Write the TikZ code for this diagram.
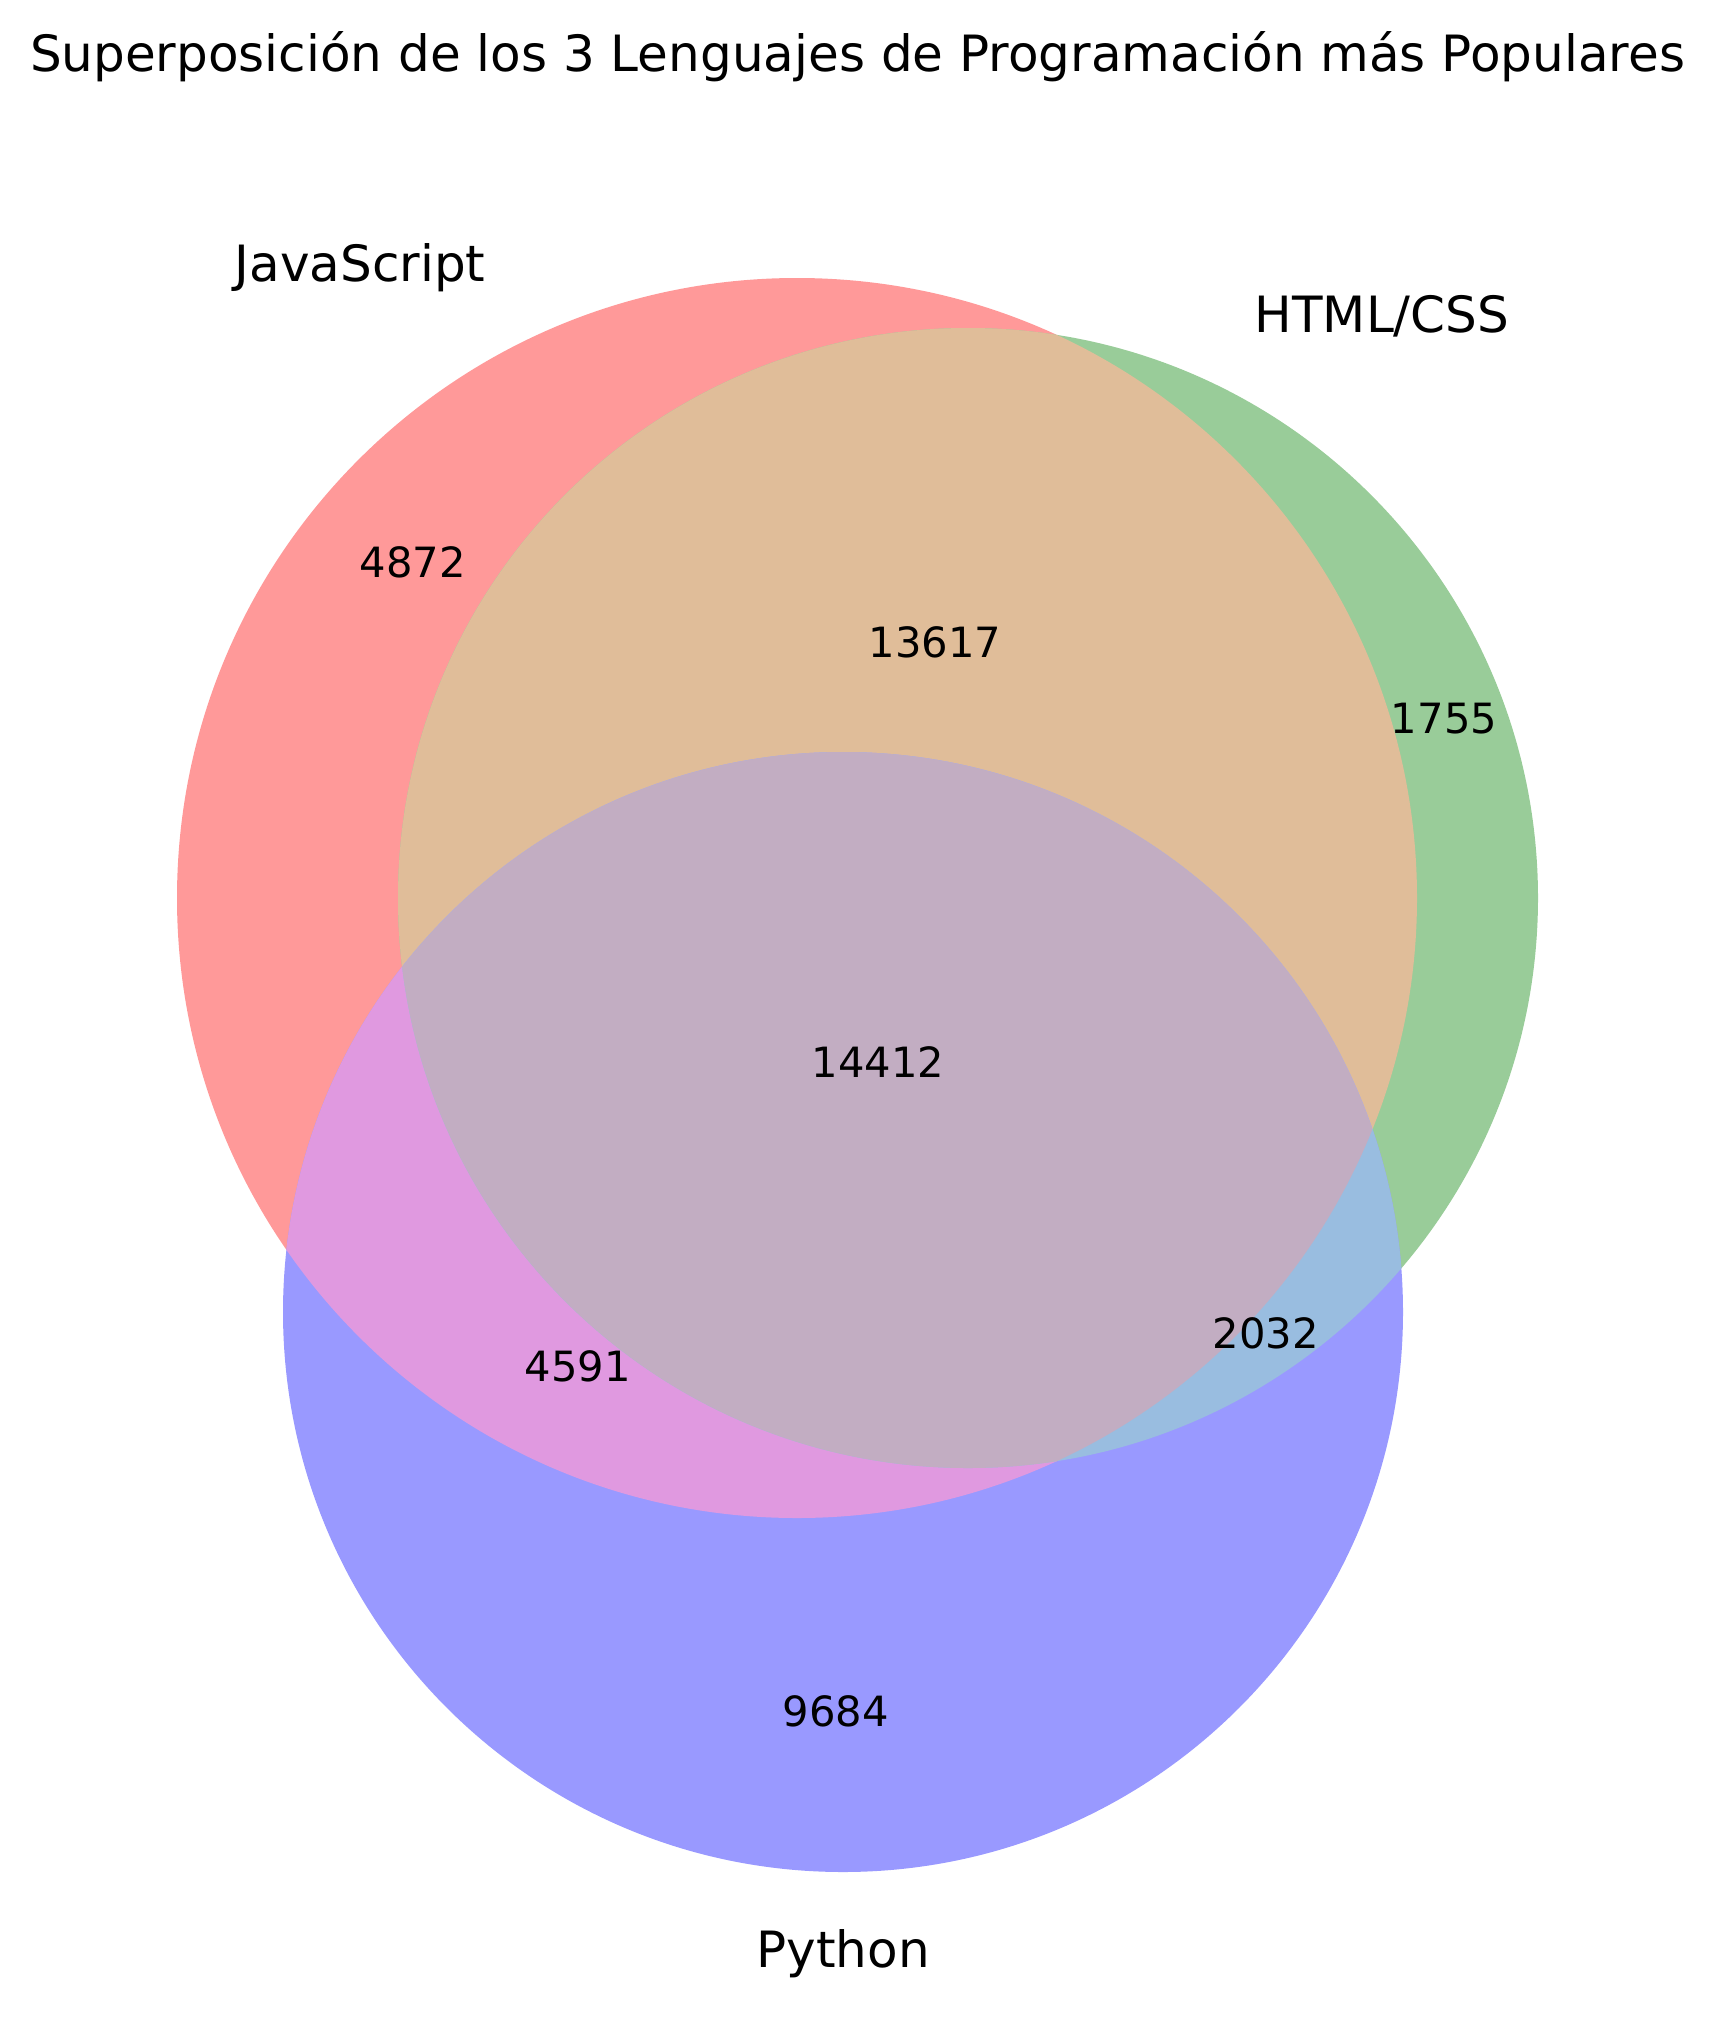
\documentclass[tikz,border=0pt]{standalone}
\usepackage{fontspec}
\setmainfont{DejaVu Sans}
\definecolor{cR}{RGB}{255,153,153}
\definecolor{cG}{RGB}{153,204,153}
\definecolor{cB}{RGB}{153,153,255}
\definecolor{cRG}{RGB}{224,189,153}
\definecolor{cRB}{RGB}{224,153,224}
\definecolor{cGB}{RGB}{153,189,224}
\definecolor{cRGB}{RGB}{194,173,194}
\begin{document}
\begin{tikzpicture}[x=1pt,y=-1pt,
  lbl/.style={font=\fontsize{50}{60}\selectfont, inner sep=0pt},
  num/.style={font=\fontsize{41.67}{50}\selectfont, inner sep=0pt}]
\useasboundingbox (0,0) rectangle (1715,2031);
% single sets
\fill[cR] (797,898) circle[radius=620pt];
\fill[cG] (968,898) circle[radius=570pt];
\fill[cB] (843,1312) circle[radius=560pt];
% pairwise
\begin{scope}
  \clip (797,898) circle[radius=620pt];
  \fill[cRG] (968,898) circle[radius=570pt];
\end{scope}
\begin{scope}
  \clip (797,898) circle[radius=620pt];
  \fill[cRB] (843,1312) circle[radius=560pt];
\end{scope}
\begin{scope}
  \clip (968,898) circle[radius=570pt];
  \fill[cGB] (843,1312) circle[radius=560pt];
\end{scope}
\begin{scope}
  \clip (797,898) circle[radius=620pt];
  \clip (968,898) circle[radius=570pt];
  \fill[cRGB] (843,1312) circle[radius=560pt];
\end{scope}
% texts
\node[lbl, anchor=base] (title) at (857.5,72) {Superposición de los 3 Lenguajes de Programación más Populares};
\node[lbl, anchor=base] (js) at (360,281) {JavaScript};
\node[lbl, anchor=base] (html) at (1382,332) {HTML/CSS};
\node[lbl, anchor=base] (py) at (843,1967) {Python};
\node[num] (n100) at (413,562) {4872};
\node[num] (n110) at (935,642) {13617};
\node[num] (n010) at (1444,719) {1755};
\node[num] (n111) at (878,1062) {14412};
\node[num] (n101) at (578,1366) {4591};
\node[num] (n011) at (1266,1333) {2032};
\node[num] (n001) at (836,1711) {9684};
\end{tikzpicture}
\end{document}
